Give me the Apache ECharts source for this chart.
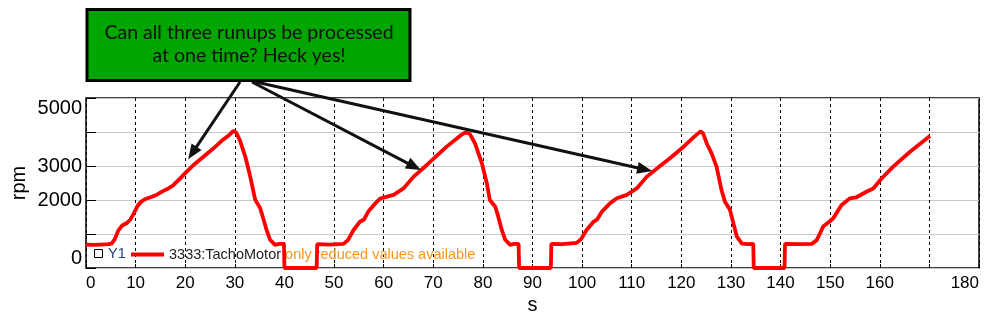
<!DOCTYPE html>
<html><head><meta charset="utf-8">
<script src="https://cdn.jsdelivr.net/npm/echarts@6/dist/echarts.min.js"></script>
<style>html,body{margin:0;padding:0;background:#fff}#c{width:1000px;height:322px}</style>
</head><body><div id="c"></div>
<script>
// ---- data ----
const timeS = [
  0, 1.5, 3, 4.5, 5.2, 5.8, 6.5, 7.3, 8.3, 8.9, 9.5, 10.5, 11.2, 12.0, 13.0, 14.2, 15.5, 16.6, 17.5, 18.9,
  20.0, 21.6, 23.5, 25.7, 27.5, 29.0, 29.7, 30.3, 31.0, 32.1, 33.1, 34.1, 35.1, 35.7, 36.4, 37.1, 38.1, 39.0, 39.9, 40.0,
  46.5, 46.6, 49, 51.9, 52.8, 53.9, 55.2, 56.0, 56.9, 58.3, 59.3, 60.5, 62.0, 64.0, 66.0, 68.7, 72.7, 75.5, 76.4, 76.8,
  77.3, 78.4, 79.8, 80.8, 81.4, 82.5, 83.1, 83.8, 84.5, 85.5, 86.3, 87.2, 87.3,
  93.7, 93.8, 96, 98.9, 99.8, 100.9, 102.3, 103, 104.0, 105.6, 107.0, 109.0, 111.0, 113.0, 115.7, 117.7, 120.1, 122.5, 123.4, 123.9,
  124.4, 125.1, 126.1, 127.1, 128.1, 128.8, 129.8, 130.5, 131.2, 132.2, 133.5, 134.5, 134.6,
  140.8, 140.9, 143.5, 146.3, 147.3, 148.6, 150.0, 150.6, 152.3, 154.0, 155.3, 157.4, 158.7, 160.4, 162.7, 166.1, 170.1
];
const rpm = [
  690, 680, 690, 700, 720, 850, 1100, 1250, 1330, 1420, 1570, 1850, 1960, 2030, 2080, 2150, 2260, 2340, 2420, 2620,
  2790, 3020, 3250, 3520, 3760, 3930, 4030, 3980, 3760, 3280, 2690, 2010, 1760, 1470, 1120, 830, 680, 710, 710, 0,
  0, 700, 690, 710, 820, 1110, 1360, 1420, 1660, 1900, 2040, 2090, 2150, 2340, 2680, 3030, 3570, 3900, 3980, 4030,
  3960, 3670, 3080, 2490, 2000, 1800, 1510, 1120, 830, 680, 710, 710, 0,
  0, 710, 700, 740, 850, 1120, 1360, 1420, 1660, 1900, 2050, 2150, 2340, 2680, 3000, 3230, 3520, 3850, 3960, 4020,
  3950, 3670, 3370, 2980, 2290, 1950, 1710, 1310, 920, 720, 700, 710, 0,
  0, 710, 700, 710, 820, 1220, 1380, 1460, 1850, 2050, 2080, 2250, 2340, 2640, 2980, 3420, 3880
];
const xHiddenLabels = [170];
const yShownLabels = [0, 2000, 3000, 5000];
const seriesName = '3333:TachoMotor';
const legendNote = 'only reduced values available';
const axisLabelY1 = 'Y1';
const noteLines = ['Can all three runups be processed', 'at one time? Heck yes!'];
const arrowTargets = [[20.6, 3200], [67.5, 2880], [114.1, 2850]];
const arrowStarts = [[240, 82], [252, 82], [256, 82]];

const pts = timeS.map((t, i) => [t, rpm[i]]);
const chart = echarts.init(document.getElementById('c'), null, {renderer: 'canvas'});
const FONT = 'Liberation Sans, Arial, sans-serif';

const baseGraphic = [
  {type: 'rect', shape: {x: 87, y: 9.5, width: 323, height: 71}, style: {fill: '#00a500', stroke: '#000', lineWidth: 3}, z: 100},
  {type: 'text', x: 249, y: 33, z: 101, style: {text: noteLines[0], fill: '#111', font: '19.5px Lato, "Open Sans", sans-serif', textAlign: 'center', textVerticalAlign: 'middle'}},
  {type: 'text', x: 249, y: 56, z: 101, style: {text: noteLines[1], fill: '#111', font: '19.5px Lato, "Open Sans", sans-serif', textAlign: 'center', textVerticalAlign: 'middle'}},
  {type: 'rect', shape: {x: 94.5, y: 249.5, width: 8, height: 8}, style: {fill: '#fff', stroke: '#000', lineWidth: 1}, z: 50},
  {type: 'text', x: 108, y: 254, z: 50, style: {text: axisLabelY1, fill: '#22407a', font: '14.5px ' + FONT, textAlign: 'left', textVerticalAlign: 'middle'}}
];

const option = {
  animation: false,
  backgroundColor: '#fff',
  grid: {left: 86, right: 21, top: 98, bottom: 54, show: true, borderColor: '#000', borderWidth: 1.5, backgroundColor: 'transparent'},
  legend: {
    data: [seriesName], left: 131, top: 247, icon: 'rect', itemWidth: 33, itemHeight: 4,
    selectedMode: false, padding: 0,
    formatter: n => '{a|' + n + '}{b| ' + legendNote + '}',
    textStyle: {fontSize: 14.5, fontFamily: FONT, rich: {a: {color: '#222', fontSize: 14.5, fontFamily: FONT}, b: {color: '#f5961a', fontSize: 14.5, fontFamily: FONT}}}
  },
  xAxis: {
    type: 'value', min: 0, max: 180, interval: 10,
    axisLine: {show: false},
    axisTick: {show: true, inside: true, length: 4, lineStyle: {color: '#000'}},
    axisLabel: {fontSize: 17, color: '#000', fontFamily: FONT, margin: 7, showMinLabel: true, showMaxLabel: true,
      alignMinLabel: 'left', alignMaxLabel: 'right',
      formatter: v => xHiddenLabels.includes(v) ? '' : String(v)},
    splitLine: {show: true, lineStyle: {color: '#000', type: [3, 3], width: 1}},
    name: 's', nameLocation: 'middle', nameGap: 27, nameMoveOverlap: false,
    nameTextStyle: {fontSize: 20, color: '#000', fontFamily: FONT}
  },
  yAxis: {
    type: 'value', min: 0, max: 5000, interval: 1000,
    axisLine: {show: false},
    axisTick: {show: true, inside: true, length: 10, lineStyle: {color: '#000'}},
    axisLabel: {fontSize: 20, color: '#000', fontFamily: FONT, margin: 4, showMinLabel: true, showMaxLabel: true,
      verticalAlignMinLabel: 'bottom', verticalAlignMaxLabel: 'top',
      formatter: v => yShownLabels.includes(v) ? String(v) : ''},
    splitLine: {show: true, lineStyle: {color: '#c8c8c8', width: 1}},
    name: 'rpm', nameLocation: 'middle', nameGap: 57, nameMoveOverlap: false,
    nameTextStyle: {fontSize: 20, color: '#000', fontFamily: FONT}
  },
  series: [{
    name: seriesName, type: 'line', data: pts, showSymbol: false, symbol: 'none', clip: false,
    lineStyle: {color: '#ff0000', width: 3.8}, itemStyle: {color: '#ff0000'}, z: 5
  }],
  graphic: baseGraphic
};
chart.setOption(option);

function arrow(x0, y0, x1, y1) {
  const dx = x1 - x0, dy = y1 - y0, L = Math.hypot(dx, dy);
  const ux = dx / L, uy = dy / L, hl = 15, hw = 6;
  const bx = x1 - ux * hl, by = y1 - uy * hl;
  return [
    {type: 'line', z: 90, shape: {x1: x0, y1: y0, x2: bx + ux * 2, y2: by + uy * 2}, style: {stroke: '#111', lineWidth: 3}},
    {type: 'polygon', z: 90, shape: {points: [[x1, y1], [bx - uy * hw, by + ux * hw], [bx + uy * hw, by - ux * hw]]}, style: {fill: '#111'}}
  ];
}
const arrows = [];
arrowTargets.forEach((tgt, i) => {
  const p = chart.convertToPixel({gridIndex: 0}, tgt);
  arrows.push(...arrow(arrowStarts[i][0], arrowStarts[i][1], p[0], p[1]));
});
chart.setOption({graphic: baseGraphic.concat(arrows)});
</script>
</body></html>
